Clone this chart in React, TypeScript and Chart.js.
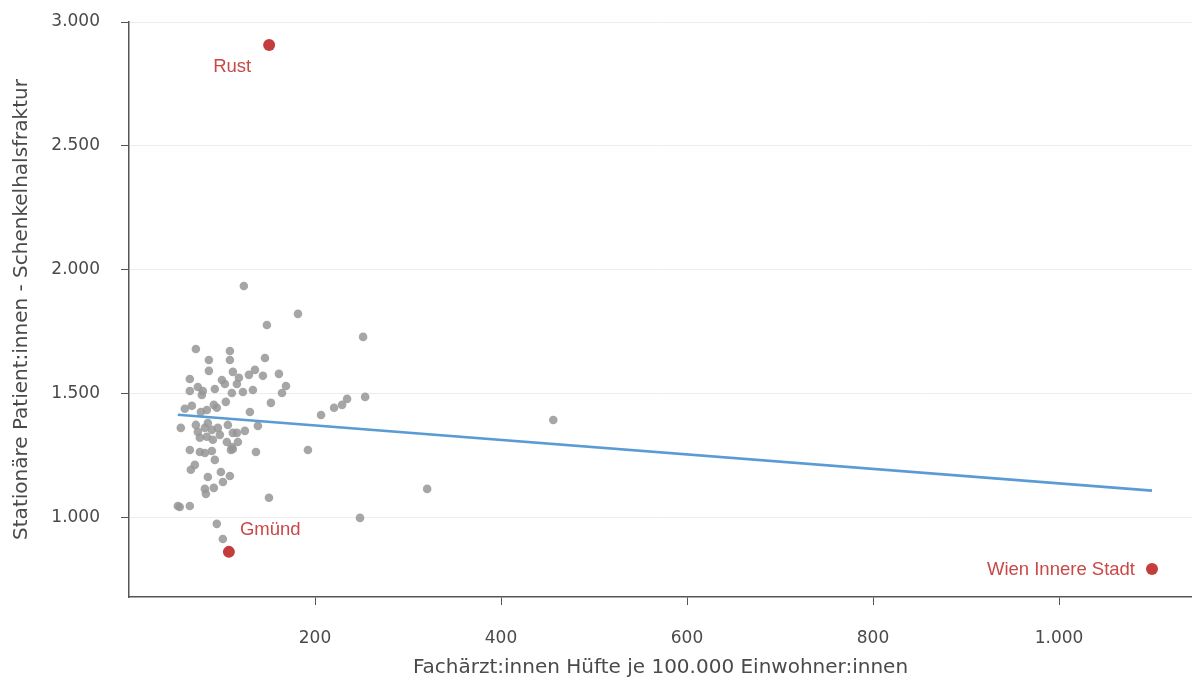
import { useEffect, useRef } from "react";
import { Chart, registerables } from "chart.js";

Chart.register(...registerables);

// Fachärzt:innen Hüfte je 100.000 Einwohner:innen (x) vs. stationäre Patient:innen (y), one point per district
const districtX = [
  123.5, 181.7, 148.3, 251.7, 71.9, 108.5, 85.9, 108.5, 146.2, 85.9,
  111.7, 128.9, 135.4, 118.2, 144.0, 161.2, 65.4, 99.9, 103.1, 116.0,
  74.0, 65.4, 78.3, 79.4, 92.3, 110.6, 122.5, 133.2, 168.8, 164.5,
  152.6, 60.0, 67.6, 77.3, 83.7, 91.2, 94.4, 104.1, 130.0, 206.5,
  220.5, 229.1, 234.5, 253.9, 456.2, 55.7, 71.9, 74.0, 81.6, 84.8,
  89.1, 95.6, 106.3, 76.2, 83.7, 90.2, 97.7, 105.2, 110.6, 111.7,
  116.0, 124.6, 138.6, 111.7, 117.1, 65.4, 76.2, 81.6, 89.1, 92.3,
  109.6, 136.5, 192.4, 70.8, 66.5, 84.8, 98.8, 108.5, 101.0, 81.6,
  91.2, 82.7, 52.5, 54.6, 65.4, 150.5, 320.6, 248.4, 94.4, 100.9,
];
const districtY = [
  1935, 1823, 1778, 1730, 1681, 1673, 1637, 1637, 1645, 1593,
  1589, 1577, 1597, 1565, 1573, 1581, 1560, 1556, 1540, 1540,
  1528, 1512, 1496, 1512, 1520, 1504, 1508, 1516, 1532, 1504,
  1464, 1440, 1452, 1427, 1435, 1456, 1444, 1468, 1427, 1415,
  1444, 1456, 1480, 1488, 1395, 1363, 1375, 1347, 1363, 1383,
  1355, 1363, 1375, 1323, 1327, 1315, 1335, 1306, 1286, 1343,
  1343, 1351, 1371, 1278, 1306, 1274, 1266, 1262, 1270, 1234,
  1274, 1266, 1274, 1214, 1194, 1165, 1185, 1169, 1145, 1117,
  1121, 1097, 1048, 1044, 1048, 1081, 1117, 1000, 976, 915,
];

// Highlighted districts
const highlightNames = ["Rust", "Gmünd", "Wien Innere Stadt"];
const highlightX = [150.7, 107.4, 1100];
const highlightY = [2907, 863, 794];

// Linear trend line end points
const trendX = [52.5, 1100];
const trendY = [1416, 1110];

// Axis ranges and ticks
const xRange = [0, 1143];
const yRange = [681, 3000];
const xTickValues = [200, 400, 600, 800, 1000];
const yTickValues = [1000, 1500, 2000, 2500, 3000];

const xTitle = "Fachärzt:innen Hüfte je 100.000 Einwohner:innen";
const yTitle = "Stationäre Patient:innen - Schenkelhalsfraktur";

// label placement relative to each highlighted point: [dx, dy, align]
const labelPlacement: [number, number, CanvasTextAlign][] = [
  [-37, 22, "center"],
  [11, -22, "left"],
  [-17, 1, "right"],
];

const formatDE = (v: number) =>
  String(Math.round(v)).replace(/\B(?=(\d{3})+(?!\d))/g, ".");

const AXIS_FONT = "'DejaVu Sans', sans-serif";
const AXIS_TEXT = "#4a4a4a";
const AXIS_LINE = "#555555";
const RED = "#c43d3d";

const highlightLabels = {
  id: "highlightLabels",
  afterDatasetsDraw(chart: any) {
    const { ctx, scales } = chart;
    ctx.save();
    ctx.font = "18.5px 'Liberation Sans', Arial, sans-serif";
    ctx.fillStyle = "#c94848";
    ctx.textBaseline = "middle";
    highlightNames.forEach((name, i) => {
      const px = scales.x.getPixelForValue(highlightX[i]);
      const py = scales.y.getPixelForValue(highlightY[i]);
      const [dx, dy, align] = labelPlacement[i];
      ctx.textAlign = align;
      ctx.fillText(name, px + dx, py + dy);
    });
    ctx.restore();
  },
};

export default function App() {
  const canvasRef = useRef<HTMLCanvasElement | null>(null);

  useEffect(() => {
    if (!canvasRef.current) return;
    const chart = new Chart(canvasRef.current, {
      type: "scatter",
      data: {
        datasets: [
          {
            label: "Bezirke",
            data: districtX.map((x, i) => ({ x, y: districtY[i] })),
            backgroundColor: "rgba(150,150,150,0.85)",
            borderColor: "rgba(150,150,150,0.85)",
            borderWidth: 0,
            pointRadius: 4.3,
            order: 3,
          },
          {
            label: "Trend",
            type: "line",
            data: trendX.map((x, i) => ({ x, y: trendY[i] })),
            borderColor: "#5b9bd5",
            borderWidth: 2.6,
            pointRadius: 0,
            fill: false,
            order: 2,
          } as any,
          {
            label: "Hervorgehoben",
            data: highlightX.map((x, i) => ({ x, y: highlightY[i] })),
            backgroundColor: RED,
            borderColor: RED,
            borderWidth: 0,
            pointRadius: 6,
            order: 1,
          },
        ],
      },
      options: {
        responsive: true,
        maintainAspectRatio: false,
        animation: false,
        layout: {
          autoPadding: false,
          padding: { top: 22, right: 0, left: 0, bottom: 0 },
        },
        plugins: {
          legend: { display: false },
          tooltip: { enabled: false },
        },
        scales: {
          x: {
            type: "linear",
            min: xRange[0],
            max: xRange[1],
            afterBuildTicks: (scale: any) => {
              scale.ticks = xTickValues.map((value) => ({ value }));
            },
            afterFit: (scale: any) => {
              scale.height = 84;
              scale.paddingLeft = 0;
              scale.paddingRight = 0;
            },
            grid: {
              drawOnChartArea: false,
              drawTicks: true,
              tickLength: 8,
              tickColor: AXIS_LINE,
            },
            border: { display: true, color: AXIS_LINE, width: 1.5 },
            ticks: {
              padding: 23,
              color: AXIS_TEXT,
              font: { family: AXIS_FONT, size: 17 },
              callback: (v: any) => formatDE(Number(v)),
              maxRotation: 0,
            },
            title: {
              display: true,
              text: xTitle,
              color: AXIS_TEXT,
              font: { family: AXIS_FONT, size: 20 },
              padding: { top: 0, bottom: 1 },
            },
          },
          y: {
            type: "linear",
            min: yRange[0],
            max: yRange[1],
            afterBuildTicks: (scale: any) => {
              scale.ticks = yTickValues.map((value) => ({ value }));
            },
            afterFit: (scale: any) => {
              scale.width = 129;
              scale.paddingTop = 0;
              scale.paddingBottom = 0;
            },
            grid: {
              color: "#ececec",
              lineWidth: 1,
              drawTicks: true,
              tickLength: 8,
              tickColor: AXIS_LINE,
            },
            border: { display: true, color: AXIS_LINE, width: 1.5 },
            ticks: {
              padding: 21,
              color: AXIS_TEXT,
              font: { family: AXIS_FONT, size: 17 },
              callback: (v: any) => formatDE(Number(v)),
            },
            title: {
              display: true,
              text: yTitle,
              color: AXIS_TEXT,
              font: { family: AXIS_FONT, size: 20 },
              padding: { top: 10, bottom: 0 },
            },
          },
        },
      },
      plugins: [highlightLabels],
    });
    return () => chart.destroy();
  }, []);

  return (
    <div
      style={{
        position: "fixed",
        left: 0,
        top: 0,
        width: 1192,
        height: 681,
        background: "#ffffff",
      }}
    >
      <canvas ref={canvasRef} />
    </div>
  );
}
